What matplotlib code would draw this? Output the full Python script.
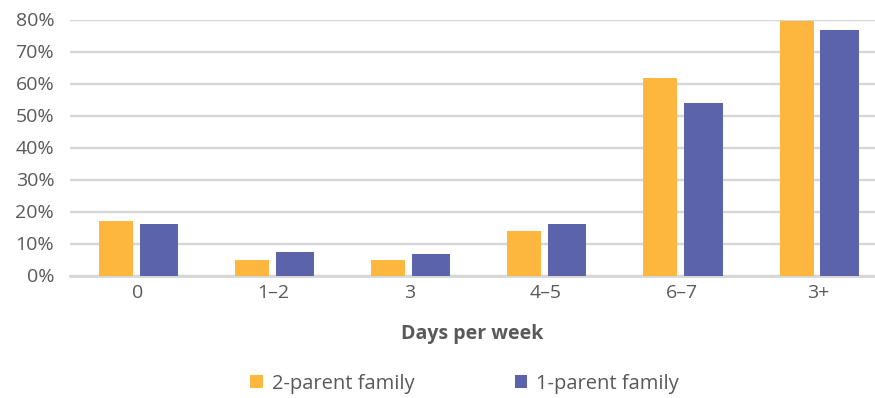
import matplotlib.pyplot as plt
import numpy as np

plt.rcParams['font.family'] = ['Open Sans', 'DejaVu Sans']

categories = ['0', '1–2', '3', '4–5', '6–7', '3+']
two_parent = [17, 5, 5, 14, 61.7, 79.6]
one_parent = [16.2, 7.3, 6.7, 16.2, 54.0, 76.8]
yticks = [0, 10, 20, 30, 40, 50, 60, 70, 80]

orange = '#FDB73F'
blue = '#5B63AB'
grey = '#595959'

fig = plt.figure(figsize=(8.75, 3.98), dpi=100)
ax = fig.add_axes([69.5 / 875, 1 - 275.5 / 398, 1 - 69.5 / 875, (275.5 - 19.5) / 398])

x = np.arange(len(categories))
ax.bar(x - 0.158, two_parent, width=0.25, color=orange, label='2-parent family', zorder=3)
ax.bar(x + 0.158, one_parent, width=0.28, color=blue, label='1-parent family', zorder=3)

ax.set_ylim(0, 80)
ax.set_xlim(-0.5, (875 - 69.5) / 136.1 - 0.5)
ax.set_yticks(yticks)
ax.set_yticklabels([f'{v}%' for v in yticks])
ax.set_xticks(x)
ax.set_xticklabels(categories)
ax.grid(axis='y', color='#d6d6d6', linewidth=1.7, zorder=0)
ax.set_axisbelow(True)
for s in ['top', 'right', 'left']:
    ax.spines[s].set_visible(False)
ax.spines['bottom'].set_color('#d6d6d6')
ax.spines['bottom'].set_linewidth(2)
ax.tick_params(axis='both', length=0, labelsize=14, colors=grey)
ax.tick_params(axis='y', pad=11)
ax.tick_params(axis='x', pad=6)
ax.set_xlabel('Days per week', fontsize=14, fontweight='bold', color=grey, labelpad=16)

leg = fig.legend(loc='lower left', bbox_to_anchor=(242 / 875, -0.01), ncol=2, frameon=False,
                 fontsize=14.5, handlelength=0.62, handleheight=0.62, handletextpad=0.45,
                 columnspacing=5.0, borderaxespad=0)
for t in leg.get_texts():
    t.set_color(grey)

fig.savefig('out.png', dpi=100)
